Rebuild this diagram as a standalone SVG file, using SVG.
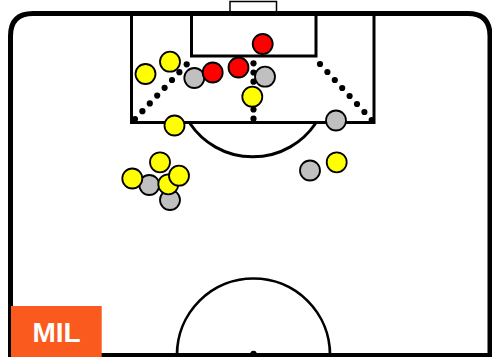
<svg xmlns="http://www.w3.org/2000/svg" width="492" height="357" viewBox="0 0 492 357">
<style>
.pitch{fill:none;stroke:#000;stroke-linecap:butt}
.dot{fill:#000}
.p{stroke:#000;stroke-width:1.8}
.y{fill:#FFFF00}
.g{fill:#C0C0C0}
.r{fill:#FF0000}
.lbl{font-family:"Liberation Sans",Arial,sans-serif;font-weight:bold;font-size:28px;fill:#fff}
</style>
<rect x="0" y="0" width="492" height="357" fill="#fff"/>
<g id="pitch">
<rect x="230" y="1.5" width="46.5" height="12" fill="#fff" stroke="#000" stroke-width="1.5"/>
<path class="pitch" stroke-width="5" d="M10.5,360 V36 Q10.5,13.5 33,13.5 H468 Q490,13.5 490,36 V360"/>
<line class="pitch" stroke-width="4" x1="8" y1="355" x2="492" y2="355"/>
<path class="pitch" stroke-width="3" d="M131.5,13.5 V122.5 H374 V13.5"/>
<path class="pitch" stroke-width="3" d="M191.5,13.5 V56 H316 V13.5"/>
<path class="pitch" stroke-width="3" d="M190,123.5 A75.7,75.7 0 0 0 315.5,123.5"/>
<path class="pitch" stroke-width="2.7" d="M177,355 A76.5,76.5 0 0 1 330,355"/>
<circle class="dot" cx="253.5" cy="354" r="3.2"/>
</g>
<g id="dotted-lines">
<circle class="dot" cx="135" cy="119" r="3.1"/>
<circle class="dot" cx="142.4" cy="111.2" r="3.1"/>
<circle class="dot" cx="149.8" cy="103.4" r="3.1"/>
<circle class="dot" cx="157.2" cy="95.6" r="3.1"/>
<circle class="dot" cx="164.6" cy="87.8" r="3.1"/>
<circle class="dot" cx="172" cy="80" r="3.1"/>
<circle class="dot" cx="179.4" cy="72.2" r="3.1"/>
<circle class="dot" cx="186.7" cy="64.3" r="3.1"/>
<circle class="dot" cx="320" cy="64" r="3.1"/>
<circle class="dot" cx="327.4" cy="72" r="3.1"/>
<circle class="dot" cx="334.8" cy="80" r="3.1"/>
<circle class="dot" cx="342.2" cy="88" r="3.1"/>
<circle class="dot" cx="349.6" cy="96" r="3.1"/>
<circle class="dot" cx="357" cy="104" r="3.1"/>
<circle class="dot" cx="364.4" cy="112" r="3.1"/>
<circle class="dot" cx="371.7" cy="120" r="3.1"/>
<circle class="dot" cx="253.5" cy="63.3" r="3.1"/>
<circle class="dot" cx="253.5" cy="72.5" r="3.1"/>
<circle class="dot" cx="253.5" cy="81.7" r="3.1"/>
<circle class="dot" cx="253.5" cy="91" r="3.1"/>
<circle class="dot" cx="253.5" cy="100.2" r="3.1"/>
<circle class="dot" cx="253.5" cy="109.5" r="3.1"/>
<circle class="dot" cx="253.5" cy="118.7" r="3.1"/>
</g>
<g id="players">
<circle id="g1" class="p g" cx="194.3" cy="78" r="10"/>
<circle id="g2" class="p g" cx="265" cy="76.7" r="10"/>
<circle id="g3" class="p g" cx="336" cy="120.5" r="10"/>
<circle id="g4" class="p g" cx="149.3" cy="185" r="10"/>
<circle id="g5" class="p g" cx="170" cy="200" r="10"/>
<circle id="g6" class="p g" cx="310" cy="170.5" r="10"/>
<circle id="y1" class="p y" cx="145.5" cy="74" r="10"/>
<circle id="y2" class="p y" cx="170" cy="61.7" r="10"/>
<circle id="y3" class="p y" cx="252.3" cy="96.7" r="10"/>
<circle id="y4" class="p y" cx="174.5" cy="125.5" r="10"/>
<circle id="y5" class="p y" cx="132.3" cy="178.5" r="10"/>
<circle id="y6" class="p y" cx="160" cy="162.3" r="10"/>
<circle id="y7" class="p y" cx="168.3" cy="184.3" r="10"/>
<circle id="y8" class="p y" cx="179" cy="175.7" r="10"/>
<circle id="y9" class="p y" cx="336.7" cy="162.3" r="10"/>
<circle id="r1" class="p r" cx="212.7" cy="72.5" r="10"/>
<circle id="r2" class="p r" cx="238.5" cy="67.5" r="10"/>
<circle id="r3" class="p r" cx="262.7" cy="44" r="10"/>
</g>
<g id="label">
<rect x="11" y="306" width="90.7" height="51" fill="#FA5A1E"/>
<text class="lbl" x="56.5" y="342" text-anchor="middle">MIL</text>
</g>
</svg>
